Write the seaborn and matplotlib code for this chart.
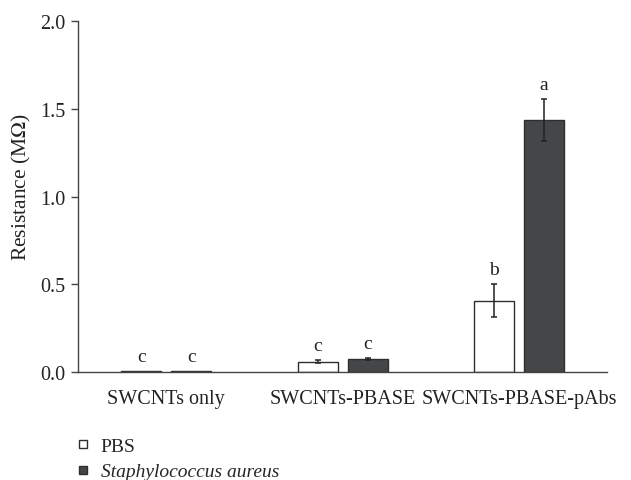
import numpy as np
import pandas as pd
import matplotlib
matplotlib.use('Agg')
import matplotlib.pyplot as plt
import seaborn as sns
from matplotlib.lines import Line2D

sns.set_theme(style="white")
plt.rcParams['font.family'] = ['Liberation Serif', 'DejaVu Serif']
plt.rcParams['mathtext.fontset'] = 'stix'

# dados
grupos = ['SWCNTs only', 'SWCNTs-PBASE', 'SWCNTs-PBASE-pAbs']
series = ['PBS', 'Staphylococcus aureus']
valores_pbs = [0.005, 0.059, 0.406]
valores_sa = [0.005, 0.074, 1.436]
erros_pbs = [0.0, 0.008, 0.094]
erros_sa = [0.0, 0.006, 0.119]
letras_pbs = ['c', 'c', 'b']
letras_sa = ['c', 'c', 'a']

df = pd.DataFrame({
    'grupo': grupos * 2,
    'serie': [series[0]] * 3 + [series[1]] * 3,
    'valor': valores_pbs + valores_sa,
})

cores = {series[0]: 'white', series[1]: '#454648'}
borda = '#2e2e2e'
texto = '#222222'

fig, ax = plt.subplots(figsize=(6.31, 4.81), dpi=100)
fig.subplots_adjust(left=0.124, right=0.962, top=0.954, bottom=0.2245)

sns.barplot(data=df, x='grupo', y='valor', hue='serie', order=grupos,
            hue_order=series, palette=cores, width=0.567, gap=0.2,
            errorbar=None, edgecolor=borda, linewidth=1.0, legend=False, ax=ax)

# barras de erro e letras de significância
erros = erros_pbs + erros_sa
letras = letras_pbs + letras_sa
valores = valores_pbs + valores_sa
for patch, val, err, letra in zip(ax.patches, valores, erros, letras):
    xc = patch.get_x() + patch.get_width() / 2
    if err > 0:
        ax.errorbar(xc, val, yerr=err, fmt='none', ecolor=texto,
                    elinewidth=1.1, capsize=2.5, capthick=1.1)
    ax.text(xc, val + err + 0.035, letra, ha='center', va='bottom',
            fontsize=14, color=texto)

ax.set_xlim(-0.5, 2.5)
ax.set_ylim(0, 2.0)
ax.set_yticks([0.0, 0.5, 1.0, 1.5, 2.0])
ax.set_yticklabels(['0.0', '0.5', '1.0', '1.5', '2.0'])
ax.set_xlabel('')
ax.set_ylabel('Resistance (M$\\Omega$)', fontsize=15.5, color=texto)
ax.yaxis.set_label_coords(-0.085, 0.53)
ax.tick_params(axis='y', left=True, length=5, width=1, color='#444444',
               labelsize=14.5, labelcolor=texto, pad=4)
ax.tick_params(axis='x', bottom=False, labelsize=14.5, labelcolor=texto, pad=6)
sns.despine(ax=ax)
for lado in ['left', 'bottom']:
    ax.spines[lado].set_color('#444444')
    ax.spines[lado].set_linewidth(1.0)

# legenda com marcadores quadrados pequenos
handles = [Line2D([], [], linestyle='none', marker='s', markersize=6,
                  markerfacecolor=cores[s], markeredgecolor=borda,
                  markeredgewidth=1.0) for s in series]
leg = fig.legend(handles, ['PBS', 'Staphylococcus aureus'], loc='upper left',
                 bbox_to_anchor=(0.097, 0.125), frameon=False, fontsize=14,
                 handlelength=0.42, handletextpad=0.72, labelspacing=0.4)
leg.get_texts()[1].set_fontstyle('italic')

fig.savefig('out.png', dpi=100)
